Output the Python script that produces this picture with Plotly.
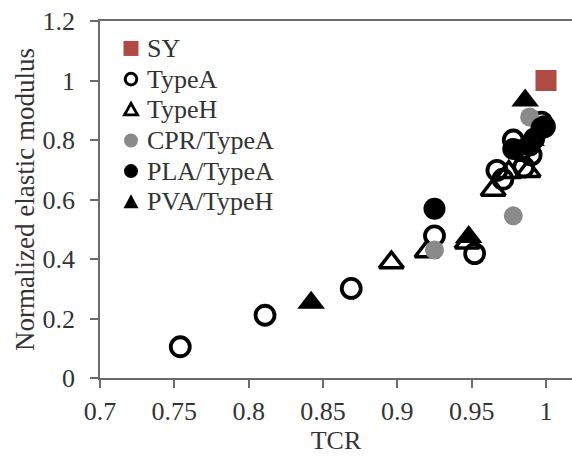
import plotly.graph_objects as go

# ---- data ----
sy_x = [1.0]
sy_y = [1.0]

typeA_x = [0.754, 0.811, 0.869, 0.925, 0.952, 0.967, 0.971, 0.978, 0.983, 0.985, 0.990, 0.997, 0.999]
typeA_y = [0.105, 0.211, 0.301, 0.478, 0.418, 0.698, 0.668, 0.800, 0.764, 0.709, 0.750, 0.860, 0.845]

typeH_x = [0.896, 0.920, 0.947, 0.9645, 0.975, 0.988]
typeH_y = [0.388, 0.425, 0.455, 0.632, 0.692, 0.695]

cpr_x = [0.925, 0.978, 0.989]
cpr_y = [0.430, 0.545, 0.877]

pla_x = [0.925, 0.978, 0.989, 0.992, 0.997]
pla_y = [0.569, 0.770, 0.782, 0.804, 0.840]

pva_x = [0.842, 0.948, 0.986, 0.990]
pva_y = [0.253, 0.474, 0.933, 0.800]

series_names = ["SY", "TypeA", "TypeH", "CPR/TypeA", "PLA/TypeA", "PVA/TypeH"]

x_ticks = [0.7, 0.75, 0.8, 0.85, 0.9, 0.95, 1.0]
x_tick_text = ["0.7", "0.75", "0.8", "0.85", "0.9", "0.95", "1"]
y_ticks = [0, 0.2, 0.4, 0.6, 0.8, 1.0, 1.2]
y_tick_text = ["0", "0.2", "0.4", "0.6", "0.8", "1", "1.2"]

FONT = "Liberation Serif, Times New Roman, serif"
AXC = "#6b6b6b"
TXT = "#333333"
RED = "#b04a45"
GRAY = "#8a8a8a"

# layout geometry (pixels)
W, H = 572, 457
ML, MR, MT, MB = 100, 0, 20.5, 79
PW, PH = W - ML - MR, H - MT - MB

fig = go.Figure()
fig.add_trace(go.Scatter(x=sy_x, y=sy_y, mode="markers", name=series_names[0],
                         marker=dict(symbol="square", size=21, color=RED)))
fig.add_trace(go.Scatter(x=typeA_x, y=typeA_y, mode="markers", name=series_names[1],
                         marker=dict(symbol="circle-open", size=19, color="black",
                                     line=dict(width=3.8, color="black"))))
fig.add_trace(go.Scatter(x=typeH_x, y=typeH_y, mode="markers", name=series_names[2],
                         marker=dict(symbol="triangle-up-open", size=21, color="black",
                                     line=dict(width=3.5, color="black"))))
fig.add_trace(go.Scatter(x=cpr_x, y=cpr_y, mode="markers", name=series_names[3],
                         marker=dict(symbol="circle", size=19, color=GRAY)))
fig.add_trace(go.Scatter(x=pla_x, y=pla_y, mode="markers", name=series_names[4],
                         marker=dict(symbol="circle", size=22, color="black")))
fig.add_trace(go.Scatter(x=pva_x, y=pva_y, mode="markers", name=series_names[5],
                         marker=dict(symbol="triangle-up", size=24, color="black")))

# ---- legend drawn as layout decoration (symbols + real text) ----
leg_sym_px = 131          # symbol centre, px from left of figure
leg_txt_px = 145          # text start
leg_top_px = 48           # first row centre, px from top of figure
leg_step_px = 30.7
shapes, annotations = [], []
for i, name in enumerate(series_names):
    cy_px = leg_top_px + i * leg_step_px
    xa = (leg_sym_px - ML) / PW
    ya = 1 - (cy_px - MT) / PH
    common = dict(xref="paper", yref="paper", xsizemode="pixel", ysizemode="pixel",
                  xanchor=xa, yanchor=ya, layer="above")
    if i == 0:
        shapes.append(dict(type="rect", x0=-7.5, x1=7.5, y0=-7.5, y1=7.5,
                           fillcolor=RED, line=dict(width=0), **common))
    elif i == 1:
        shapes.append(dict(type="circle", x0=-5.8, x1=5.8, y0=-5.8, y1=5.8,
                           fillcolor="rgba(0,0,0,0)", line=dict(width=3, color="black"), **common))
    elif i == 2:
        shapes.append(dict(type="path", path="M -6.5,-5 L 6.5,-5 L 0,6.5 Z",
                           fillcolor="rgba(0,0,0,0)", line=dict(width=2.8, color="black"), **common))
    elif i == 3:
        shapes.append(dict(type="circle", x0=-7, x1=7, y0=-7, y1=7,
                           fillcolor=GRAY, line=dict(width=0), **common))
    elif i == 4:
        shapes.append(dict(type="circle", x0=-7, x1=7, y0=-7, y1=7,
                           fillcolor="black", line=dict(width=0), **common))
    else:
        shapes.append(dict(type="path", path="M -7.5,-6.5 L 7.5,-6.5 L 0,7.5 Z",
                           fillcolor="black", line=dict(width=0), **common))
    annotations.append(dict(xref="paper", yref="paper", x=(leg_txt_px - ML) / PW, y=ya,
                            xanchor="left", yanchor="middle", showarrow=False, text=name,
                            font=dict(family=FONT, size=26, color=TXT)))

fig.update_layout(
    width=W, height=H,
    margin=dict(l=ML, r=MR, t=MT, b=MB),
    paper_bgcolor="white", plot_bgcolor="white",
    font=dict(family=FONT, size=26, color=TXT),
    showlegend=False,
    shapes=shapes, annotations=annotations,
    xaxis=dict(range=[0.7, 1.0175], tickmode="array", tickvals=x_ticks, ticktext=x_tick_text,
               showgrid=False, zeroline=False, showline=True, linecolor=AXC, linewidth=1.5,
               mirror=True, ticks="outside", ticklen=8, tickcolor=AXC, tickwidth=1.5,
               tickfont=dict(family=FONT, size=26, color=TXT),
               title=dict(text="TCR", standoff=0, font=dict(family=FONT, size=26, color=TXT)),
               ticklabelstandoff=1, automargin=False),
    yaxis=dict(range=[0, 1.2], tickmode="array", tickvals=y_ticks, ticktext=y_tick_text,
               showgrid=False, zeroline=False, showline=True, linecolor=AXC, linewidth=1.5,
               ticks="outside", ticklen=8, tickcolor=AXC, tickwidth=1.5,
               tickfont=dict(family=FONT, size=26, color=TXT),
               title=dict(text="Normalized elastic modulus", standoff=0,
                          font=dict(family=FONT, size=27, color=TXT)),
               ticklabelstandoff=10, automargin=False),
)

fig.write_html("out.html")
